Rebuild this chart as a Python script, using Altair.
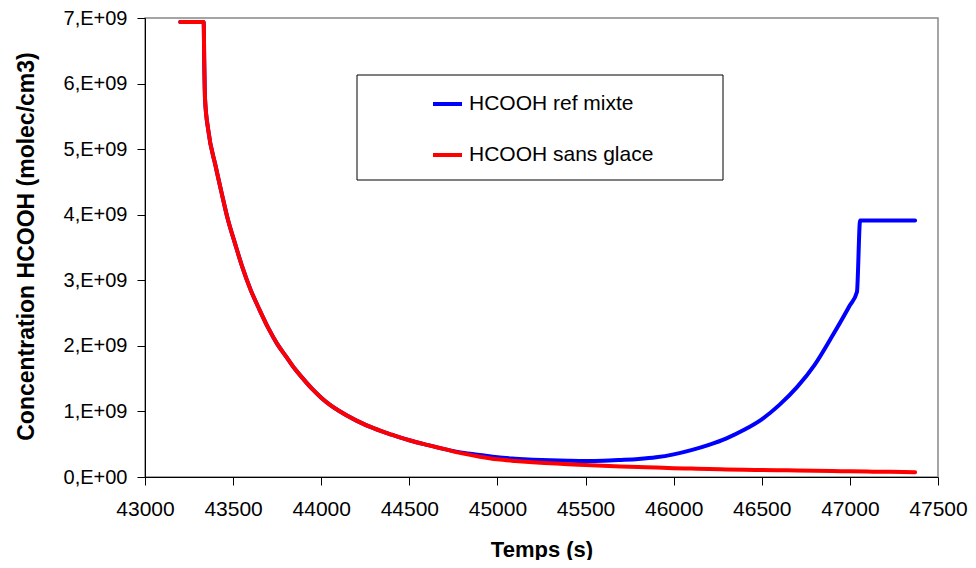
import altair as alt
import pandas as pd

# Series names
series_names = ["HCOOH ref mixte", "HCOOH sans glace"]
series_colors = ["#0000FF", "#FF0000"]

# Time (s) and concentration (molec/cm3, in 1e9 units)
t_blue = [43200, 43333, 43336, 43341, 43359, 43400, 43435, 43470, 43511, 43550,
          43600, 43650, 43700, 43750, 43800, 43850, 43900, 43950, 44000, 44050,
          44100, 44200, 44300, 44400, 44500, 44600, 44700, 44800,
          44900, 45000, 45100, 45200, 45300, 45400, 45500, 45600, 45700, 45800,
          45900, 46000, 46100, 46200, 46300, 46400, 46500, 46600, 46700, 46800,
          46900, 47000, 47040, 47058, 47370]
v_blue = [6.94, 6.94, 6.36, 5.75, 5.29, 4.75, 4.33, 3.93, 3.56, 3.22,
          2.85, 2.55, 2.27, 2.03, 1.84, 1.65, 1.49, 1.34, 1.21, 1.10,
          1.01, 0.86, 0.74, 0.645, 0.56, 0.49, 0.425, 0.37,
          0.335, 0.30, 0.28, 0.265, 0.255, 0.248, 0.244, 0.248, 0.26, 0.275,
          0.30, 0.345, 0.41, 0.49, 0.59, 0.72, 0.88, 1.10, 1.37, 1.71,
          2.15, 2.62, 2.82, 3.91, 3.91]

t_red = [43200, 43333, 43336, 43341, 43359, 43400, 43435, 43470, 43511, 43550,
         43600, 43650, 43700, 43750, 43800, 43850, 43900, 43950, 44000, 44050,
         44100, 44200, 44300, 44400, 44500, 44600, 44700, 44800,
         44900, 45000, 45100, 45200, 45300, 45400, 45500, 45600, 45700, 45800,
         45900, 46000, 46100, 46200, 46300, 46400, 46500, 46600, 46700, 46800,
         46900, 47000, 47100, 47200, 47300, 47370]
v_red = [6.94, 6.94, 6.36, 5.75, 5.29, 4.75, 4.33, 3.93, 3.56, 3.22,
         2.85, 2.55, 2.27, 2.03, 1.84, 1.65, 1.49, 1.34, 1.21, 1.10,
         1.01, 0.86, 0.74, 0.645, 0.56, 0.49, 0.425, 0.36,
         0.31, 0.27, 0.245, 0.225, 0.21, 0.195, 0.183, 0.172, 0.162, 0.153,
         0.145, 0.135, 0.128, 0.121, 0.116, 0.111, 0.107, 0.103, 0.099, 0.095,
         0.091, 0.087, 0.083, 0.079, 0.076, 0.072]

x_ticks = [43000, 43500, 44000, 44500, 45000, 45500, 46000, 46500, 47000, 47500]
y_ticks = [0, 1e9, 2e9, 3e9, 4e9, 5e9, 6e9, 7e9]

df_blue = pd.DataFrame({"t": t_blue, "v": [v * 1e9 for v in v_blue], "s": series_names[0]})
df_red = pd.DataFrame({"t": t_red, "v": [v * 1e9 for v in v_red], "s": series_names[1]})

FONT = "Liberation Sans, Arial"

x_enc = alt.X("t:Q",
              scale=alt.Scale(domain=[43000, 47500], nice=False, zero=False),
              axis=alt.Axis(values=x_ticks, format="d", tickSize=8, labelPadding=13,
                            labelFontSize=21, labelFlush=False, labelOverlap=False,
                            title="Temps (s)", titleFontSize=22,
                            titleFontWeight="bold", titleY=79, titleBaseline="alphabetic",
                            grid=False))
y_enc = alt.Y("v:Q",
              scale=alt.Scale(domain=[0, 7e9], nice=False),
              axis=alt.Axis(values=y_ticks, tickSize=8, labelPadding=10, labelFontSize=20,
                            labelFlush=False, labelOverlap=False,
                            labelExpr="datum.value == 0 ? '0,E+00' : format(datum.value/1e9, 'd') + ',E+09'",
                            title="Concentration HCOOH (molec/cm3)", titleFontSize=23,
                            titleFontWeight="bold", titleAngle=270, titleX=-119, titleY=228,
                            titleBaseline="middle", titleAlign="center", grid=False))
color_enc = alt.Color("s:N",
                      scale=alt.Scale(domain=series_names, range=series_colors),
                      legend=alt.Legend(title=None, orient="none", legendX=286, legendY=69.5,
                                        symbolType="stroke", symbolSize=841,
                                        symbolStrokeWidth=4, labelFontSize=21,
                                        labelOffset=5, rowPadding=24, padding=0,
                                        labelLimit=400))

line_kw = dict(strokeWidth=4, strokeCap="round", strokeJoin="round", interpolate="monotone")

blue = alt.Chart(df_blue).mark_line(**line_kw).encode(x=x_enc, y=y_enc, color=color_enc)
red = alt.Chart(df_red).mark_line(**line_kw).encode(x=x_enc, y=y_enc, color=color_enc)

box = alt.Chart(pd.DataFrame({"a": [0]})).mark_rect(
    fill="white", stroke="black", strokeWidth=1
).encode(x=alt.value(212), x2=alt.value(578), y=alt.value(57), y2=alt.value(162))

chart = alt.layer(box, blue, red).properties(
    width=793, height=459,
    autosize=alt.AutoSizeParams(type="none"),
    padding={"left": 137, "top": 10, "right": 30, "bottom": 83},
).configure(font=FONT).configure_view(
    stroke="#888888", strokeWidth=1.5
).configure_axis(
    domainColor="black", tickColor="black", labelColor="black", titleColor="black",
    labelFont=FONT, titleFont=FONT
).configure_legend(labelFont=FONT, labelColor="black")

chart.save("out.html", embed_options={"renderer": "svg", "actions": False})
